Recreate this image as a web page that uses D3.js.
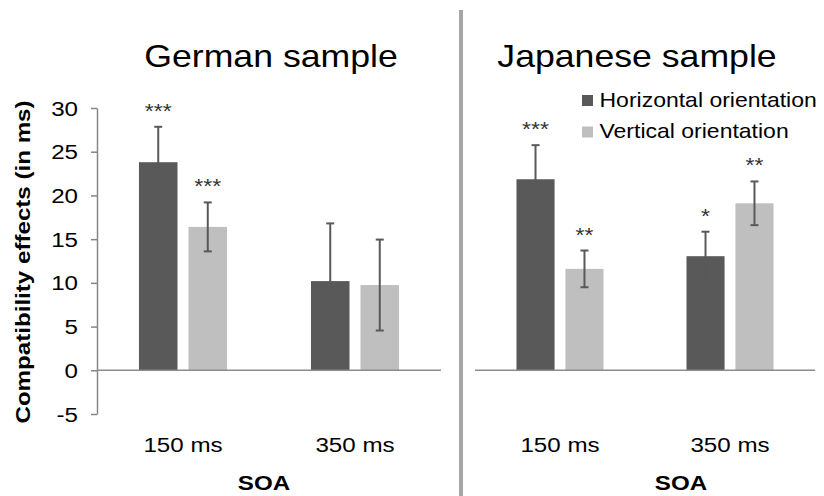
<!DOCTYPE html>
<html>
<head>
<meta charset="utf-8">
<script src="https://cdn.jsdelivr.net/npm/d3@7"></script>
<style>
  body { margin: 0; background: #fff; }
  svg { display: block; font-family: "Liberation Sans", Arial, sans-serif; }
</style>
</head>
<body>
<div id="chart"></div>
<script>
(function () {

// categories and series
var soaLevels = ["150 ms", "350 ms"];
var seriesNames = ["Horizontal orientation", "Vertical orientation"];
var yTicks = [-5, 0, 5, 10, 15, 20, 25, 30];

// German sample (means, error bars, significance)
var germanHorizontal = [23.8, 10.2];
var germanHorizontalErr = [4.05, 6.6];
var germanHorizontalSig = ["***", ""];
var germanVertical = [16.4, 9.75];
var germanVerticalErr = [2.8, 5.2];
var germanVerticalSig = ["***", ""];

// Japanese sample
var japaneseHorizontal = [21.85, 13.05];
var japaneseHorizontalErr = [3.9, 2.8];
var japaneseHorizontalSig = ["***", "*"];
var japaneseVertical = [11.6, 19.1];
var japaneseVerticalErr = [2.1, 2.5];
var japaneseVerticalSig = ["**", "**"];

var width = 824;
var height = 496;
var stretch = 1.15; // text in the figure is drawn a bit wide

var darkGrey = "#595959";
var lightGrey = "#bfbfbf";
var color = d3.scaleOrdinal().domain(seriesNames).range([darkGrey, lightGrey]);

var svg = d3.select("#chart").append("svg")
    .attr("width", width)
    .attr("height", height);

var y = d3.scaleLinear().domain([-5, 30]).range([414, 108]);

// helper: stretched text
function label(parent, x, yPos, txt, size, anchor, weight) {
  return parent.append("text")
      .attr("transform", "translate(" + x + "," + yPos + ") scale(" + stretch + ",1)")
      .attr("text-anchor", anchor || "middle")
      .style("font-size", size + "px")
      .style("font-weight", weight || "normal")
      .attr("fill", "#000")
      .text(txt);
}

function buildRows(h, hErr, hSig, v, vErr, vSig) {
  var rows = [];
  soaLevels.forEach(function (s, i) {
    rows.push({ soa: s, series: seriesNames[0], value: h[i], err: hErr[i], sig: hSig[i] });
    rows.push({ soa: s, series: seriesNames[1], value: v[i], err: vErr[i], sig: vSig[i] });
  });
  return rows;
}

var panels = [
  { title: "German sample", range: [97, 441], titleX: 271, soaX: 264, axis: true,
    rows: buildRows(germanHorizontal, germanHorizontalErr, germanHorizontalSig,
                    germanVertical, germanVerticalErr, germanVerticalSig) },
  { title: "Japanese sample", range: [475, 815], titleX: 637, soaX: 681, axis: false,
    rows: buildRows(japaneseHorizontal, japaneseHorizontalErr, japaneseHorizontalSig,
                    japaneseVertical, japaneseVerticalErr, japaneseVerticalSig) }
];

panels.forEach(function (p) {
  var g = svg.append("g");

  var x0 = d3.scaleBand().domain(soaLevels).range(p.range)
      .paddingInner(0.488).paddingOuter(0.244);
  var x1 = d3.scaleBand().domain(seriesNames).range([0, x0.bandwidth()])
      .paddingInner(0.222);

  // bars
  g.selectAll("rect.bar")
    .data(p.rows)
    .enter().append("rect")
      .attr("class", "bar")
      .attr("x", function (d) { return x0(d.soa) + x1(d.series); })
      .attr("y", function (d) { return y(d.value); })
      .attr("width", x1.bandwidth())
      .attr("height", function (d) { return y(0) - y(d.value); })
      .attr("fill", function (d) { return color(d.series); });

  // error bars
  var eb = g.selectAll("g.err")
    .data(p.rows)
    .enter().append("g")
      .attr("class", "err")
      .attr("transform", function (d) {
        return "translate(" + (x0(d.soa) + x1(d.series) + x1.bandwidth() / 2) + ",0)";
      })
      .style("stroke", darkGrey)
      .style("stroke-width", 2);
  eb.append("line")
      .attr("y1", function (d) { return y(d.value - d.err); })
      .attr("y2", function (d) { return y(d.value + d.err); });
  eb.append("line")
      .attr("x1", -4).attr("x2", 4)
      .attr("y1", function (d) { return y(d.value + d.err); })
      .attr("y2", function (d) { return y(d.value + d.err); });
  eb.append("line")
      .attr("x1", -4).attr("x2", 4)
      .attr("y1", function (d) { return y(d.value - d.err); })
      .attr("y2", function (d) { return y(d.value - d.err); });

  // significance stars
  p.rows.forEach(function (d) {
    if (!d.sig) return;
    label(g, x0(d.soa) + x1(d.series) + x1.bandwidth() / 2, y(d.value + d.err) - 9, d.sig, 20)
      .attr("fill", "#333");
  });

  // zero line
  g.append("line")
      .attr("x1", p.range[0]).attr("x2", p.range[1])
      .attr("y1", y(0)).attr("y2", y(0))
      .style("stroke", "#8c8c8c")
      .style("stroke-width", 1.5);

  // category labels
  soaLevels.forEach(function (s) {
    label(g, x0(s) + x0.bandwidth() / 2, 452, s, 21);
  });

  label(g, p.soaX, 490, "SOA", 21, "middle", "bold");
  label(g, p.titleX, 67, p.title, 31);

  if (p.axis) {
    var ax = g.append("g")
        .attr("transform", "translate(" + p.range[0] + ",0)")
        .call(d3.axisLeft(y).tickValues(yTicks).tickSize(6).tickSizeOuter(0).tickFormat(""));
    ax.selectAll("path, line").style("stroke", "#868686").style("stroke-width", 1.5);
    yTicks.forEach(function (t) {
      label(g, 78, y(t) + 7.5, t, 21, "end");
    });
    g.append("text")
        .attr("transform", "translate(30," + 262 + ") rotate(-90) scale(" + stretch + ",1)")
        .attr("text-anchor", "middle")
        .style("font-size", "21px")
        .style("font-weight", "bold")
        .text("Compatibility effects (in ms)");
  }
});

// separator between the two samples
svg.append("line")
    .attr("x1", 461).attr("x2", 461)
    .attr("y1", 10).attr("y2", height)
    .style("stroke", "#a6a6a6")
    .style("stroke-width", 4);

// legend
var legend = svg.append("g");
seriesNames.forEach(function (s, i) {
  legend.append("rect")
      .attr("x", 582).attr("y", 95 + i * 31.5)
      .attr("width", 11).attr("height", 11)
      .attr("fill", color(s));
  label(legend, 599.5, 106.7 + i * 31.5, s, 20, "start");
});

})();
</script>
</body>
</html>
